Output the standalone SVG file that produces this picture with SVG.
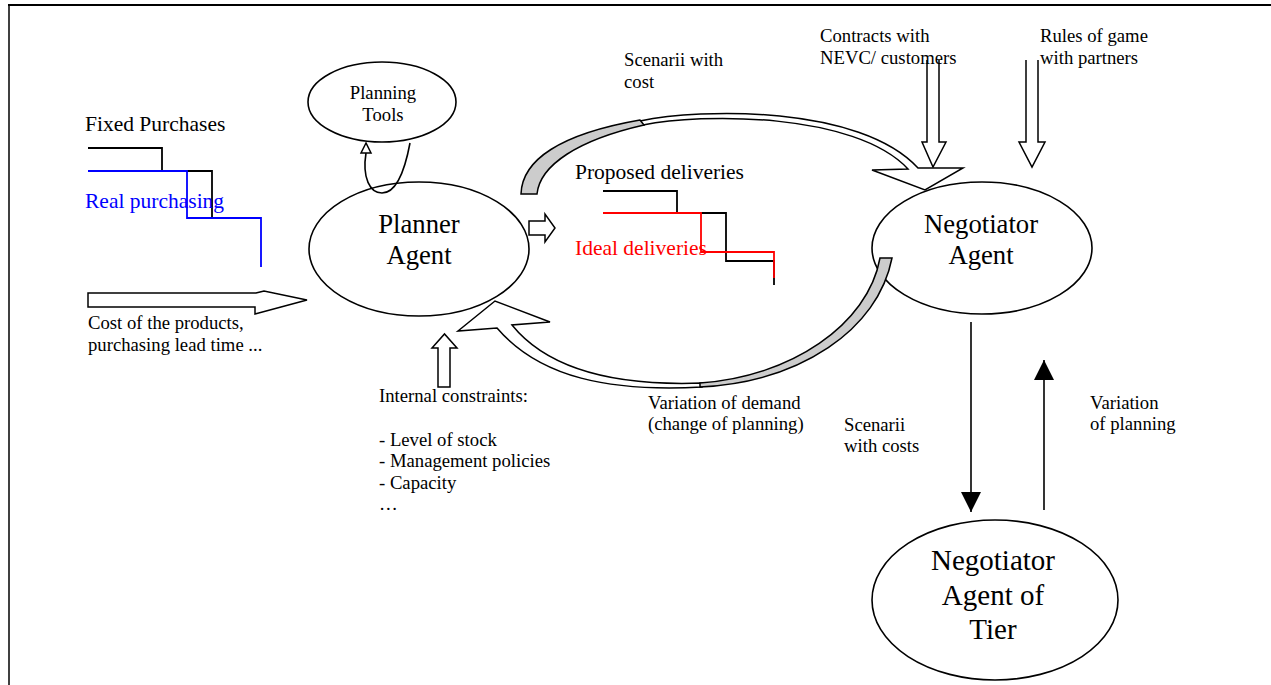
<svg xmlns="http://www.w3.org/2000/svg" width="1271" height="685" viewBox="0 0 1271 685">
<defs>
<style>
.t{font-family:"Liberation Serif","Times New Roman",serif;fill:#000}
.s{font-size:18.7px}
.m{font-size:21.5px}
.l{font-size:26.7px}
.node{fill:#fff;stroke:#000;stroke-width:1.6}
.hol{fill:#fff;stroke:#000;stroke-width:1.5;stroke-linejoin:miter}
.gry{fill:#cccccc;stroke:#000;stroke-width:1.5}
.ln{fill:none;stroke:#000;stroke-width:1.6}
.step{fill:none;stroke-width:1.8}
</style>
<marker id="fa" viewBox="0 0 20 20" refX="20" refY="10" markerWidth="20" markerHeight="20" markerUnits="userSpaceOnUse" orient="auto">
<path d="M0,0 L20,10 L0,20 Z" fill="#000"/>
</marker>
</defs>
<rect width="1271" height="685" fill="#fff"/>
<g id="frame" fill="none" stroke="#000">
<line x1="8" y1="5" x2="1271" y2="5" stroke-width="2"/>
<line x1="9" y1="5" x2="9" y2="685" stroke-width="1.5"/>
</g>

<g id="purchases-chart">
<text class="t m" x="85" y="131">Fixed Purchases</text>
<polyline class="step" stroke="#000" points="88,148 162,148 162,171 212,171 212,218 261,218"/>
<polyline class="step" stroke="#0000ff" points="88,171 187,171 187,218 261,218 261,267"/>
<text class="t m" x="85" y="208" style="fill:#0000ff">Real purchasing</text>
</g>

<g id="cost-label">
<text class="t s" x="88" y="329">Cost of the products,</text>
<text class="t s" x="88" y="351">purchasing lead time ...</text>
</g>

<g id="planning-tools">
<ellipse class="node" cx="382" cy="102" rx="74" ry="40"/>
<text class="t s" x="383" y="99" text-anchor="middle">Planning</text>
<text class="t s" x="383" y="121" text-anchor="middle">Tools</text>
</g>

<g id="planner-agent">
<ellipse class="node" cx="419" cy="249" rx="110" ry="67"/>
<text class="t l" x="419" y="233" text-anchor="middle">Planner</text>
<text class="t l" x="419" y="264" text-anchor="middle">Agent</text>
</g>

<g id="deliveries-chart">
<text class="t m" x="575" y="179">Proposed deliveries</text>
<polyline class="step" stroke="#000" points="603,191 677,191 677,213 726,213 726,261 774,261 774,285"/>
<polyline class="step" stroke="#ff0000" points="603,213 701,213 701,252 774,252 774,278"/>
<text class="t m" x="575" y="255" style="fill:#ff0000">Ideal deliveries</text>
</g>

<g id="scenarii-cost-label">
<text class="t s" x="624" y="66">Scenarii with</text>
<text class="t s" x="624" y="88">cost</text>
</g>

<g id="negotiator-agent">
<ellipse class="node" cx="982" cy="248" rx="110" ry="66"/>
<text class="t l" x="981" y="233" text-anchor="middle">Negotiator</text>
<text class="t l" x="981" y="264" text-anchor="middle">Agent</text>
</g>

<g id="internal-constraints-label">
<text class="t s" x="379" y="402">Internal constraints:</text>
<text class="t s" x="379" y="446">- Level of stock</text>
<text class="t s" x="379" y="467">- Management policies</text>
<text class="t s" x="379" y="489">- Capacity</text>
<text class="t s" x="379" y="510">…</text>
</g>

<g id="variation-demand-label">
<text class="t s" x="648" y="409">Variation of demand</text>
<text class="t s" x="648" y="430">(change of planning)</text>
</g>

<g id="scenarii-costs-label">
<text class="t s" x="844" y="431">Scenarii</text>
<text class="t s" x="844" y="452">with costs</text>
</g>

<g id="variation-planning-label">
<text class="t s" x="1090" y="409">Variation</text>
<text class="t s" x="1090" y="430">of planning</text>
</g>

<g id="negotiator-tier">
<ellipse class="node" cx="995" cy="600" rx="123" ry="80"/>
<text class="t" style="font-size:29px" x="993" y="570" text-anchor="middle">Negotiator</text>
<text class="t" style="font-size:29px" x="993" y="605" text-anchor="middle">Agent of</text>
<text class="t" style="font-size:29px" x="993" y="639" text-anchor="middle">Tier</text>
</g>

<g id="connectors">
<!-- planner to planning tools loop -->
<path class="ln" d="M410,143 C404,175 395,193 382,193 C370,193 362,178 366,153"/>
<path class="hol" d="M366,143 L361,153 L371,153 Z"/>
<!-- cost input arrow -->
<path class="hol" d="M88,293 L256,293 L264,291 L307,300 L255,314 L255,307 L88,307 Z"/>
<!-- planner to deliveries -->
<path class="hol" d="M529,221 L545,221 L545,214 L555,228 L545,242 L545,235 L529,235 Z"/>
<!-- internal constraints arrow -->
<path class="hol" d="M438,387 L438,348 L432,348 L444.5,334 L457,348 L450,348 L450,387 Z"/>
<!-- contracts arrow -->
<path class="hol" d="M927,60 L927,142 L922,142 L933,167 L946,142 L939,142 L939,60"/>
<!-- rules arrow -->
<path class="hol" d="M1026,60 L1026,142 L1019,142 L1032,167 L1045,142 L1038,142 L1038,60"/>
<!-- top curved arrow: planner to negotiator (Scenarii with cost) -->
<path class="hol" d="M640,121 C700,108 860,105 918,168 L963,168 L925,190 L872,170 L908,169 C855,112 700,113 643,125 Z"/>
<path class="gry" d="M521,194 C522,160 560,134 640,120 L644,125 C578,140 540,165 537,194 Z"/>
<!-- bottom curved arrow: negotiator to planner (Variation of demand) -->
<path class="hol" d="M512,325 C550,372 620,386 702,383 L702,387 C610,392 540,378 497,328 L458,331 L495,301 L550,322 Z"/>
<path class="gry" d="M700,383 C790,377 868,325 880,258 L892,258 C878,330 800,382 700,387 Z"/>
<!-- negotiator <-> tier -->
<line class="ln" x1="971" y1="322" x2="971" y2="512" marker-end="url(#fa)"/>
<line class="ln" x1="1044" y1="510" x2="1044" y2="360" marker-end="url(#fa)"/>
</g>

<g id="contracts-label">
<text class="t s" x="820" y="42">Contracts with</text>
<text class="t s" x="820" y="64">NEVC/ customers</text>
</g>

<g id="rules-label">
<text class="t s" x="1040" y="42">Rules of game</text>
<text class="t s" x="1040" y="64">with partners</text>
</g>
</svg>
